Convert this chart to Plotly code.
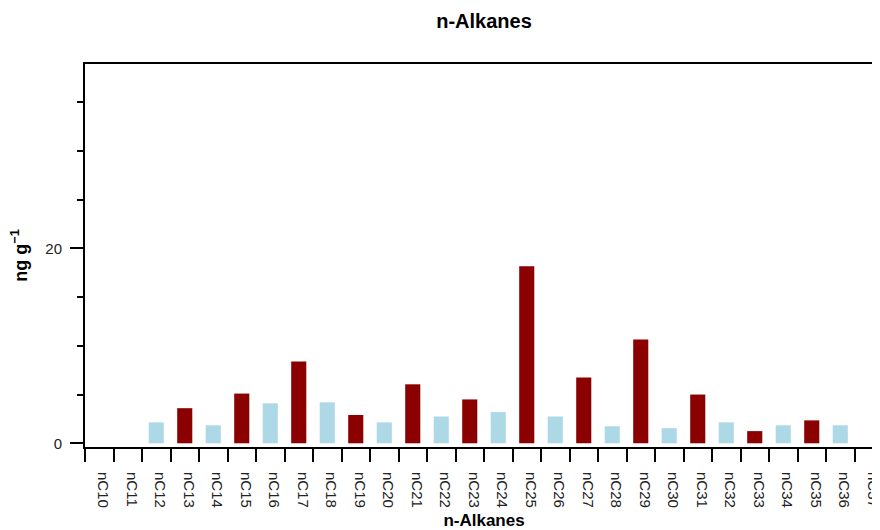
import plotly.graph_objects as go

# n-alkane chain lengths and concentrations (ng/g)
alkanes = ['nC10', 'nC11', 'nC12', 'nC13', 'nC14', 'nC15', 'nC16', 'nC17', 'nC18', 'nC19',
           'nC20', 'nC21', 'nC22', 'nC23', 'nC24', 'nC25', 'nC26', 'nC27', 'nC28', 'nC29',
           'nC30', 'nC31', 'nC32', 'nC33', 'nC34', 'nC35', 'nC36', 'nC37']
conc = [0, 0, 2.15, 3.6, 1.85, 5.1, 4.1, 8.4, 4.2, 2.9,
        2.15, 6.05, 2.75, 4.5, 3.2, 18.15, 2.75, 6.75, 1.75, 10.65,
        1.55, 5.0, 2.15, 1.25, 1.85, 2.35, 1.85, 0]

odd_col = '#8B0000'
even_col = '#ADD8E6'
colors = [odd_col if int(a[2:]) % 2 else even_col for a in alkanes]

fig = go.Figure(data=[go.Bar(x=alkanes, y=conc, marker_color=colors, marker_line_width=0)])

# page body has an 8px margin, so the margins below are shifted to compensate
fig.update_layout(
    width=880, height=530,
    margin=dict(l=77, r=5, t=56, b=91),
    plot_bgcolor='white', paper_bgcolor='white',
    font=dict(family='Arial, Liberation Sans, sans-serif', size=15, color='#222'),
    title=dict(text='<b>n-Alkanes</b>', xref='paper', x=0.5, xanchor='center',
               y=0.975, yanchor='middle', font=dict(size=20, color='black')),
    bargap=0.47,
    showlegend=False,
)
fig.update_xaxes(
    type='category', range=[-0.5, 27.5], automargin=False,
    showline=True, linecolor='black', linewidth=2, mirror=True,
    ticks='outside', tickson='boundaries', ticklen=13, tickwidth=2, tickcolor='black',
    tickangle=90, tickfont=dict(size=15, color='#222'), ticklabelstandoff=20, ticklabelshift=4,
    title=dict(text='<b>n-Alkanes</b>', font=dict(size=17, color='black'), standoff=7),
    showgrid=False,
)
fig.update_yaxes(
    range=[-0.38, 38.9], automargin=False,
    showline=True, linecolor='black', linewidth=2,
    ticks='outside', ticklen=13, tickwidth=2, tickcolor='black', dtick=20, tick0=0,
    minor=dict(dtick=5, ticks='outside', ticklen=6, tickwidth=2, tickcolor='black', showgrid=False),
    tickfont=dict(size=15, color='#222'), ticklabelstandoff=5,
    title=dict(text='<b>ng g<sup>−1</sup></b>', font=dict(size=18, color='black'), standoff=17),
    showgrid=False, zeroline=False,
)

fig.write_html('out.html')
